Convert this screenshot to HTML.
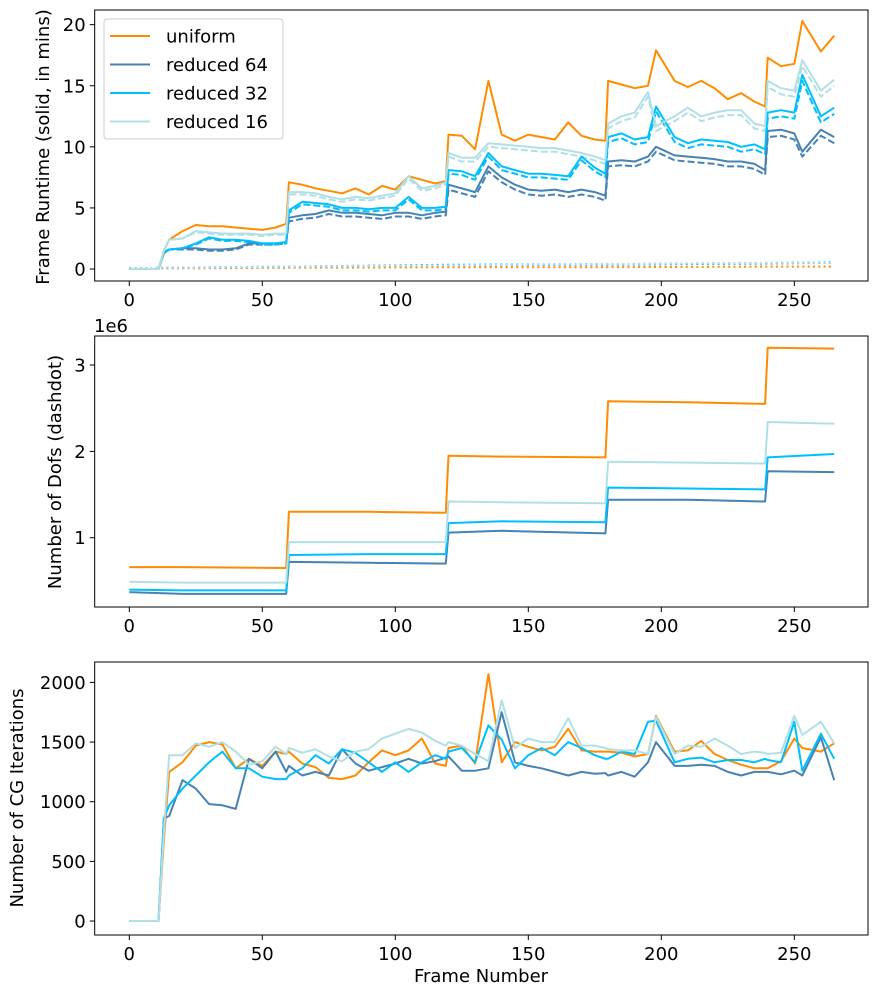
<!DOCTYPE html>
<html><head><meta charset="utf-8"><style>
body{margin:0;background:#fff;}
svg{display:block;font-family:"DejaVu Sans","Liberation Sans",sans-serif;}
</style></head><body>
<svg id="chart" width="878" height="997"></svg>
<script>
const frames=[0,5,10,11,13,15,20,25,30,35,40,45,50,55,59,60,65,70,75,80,85,90,95,100,105,110,115,119,120,125,130,135,140,145,150,155,160,165,170,175,179,180,185,190,195,198,205,210,215,220,225,230,235,239,240,245,250,253,260,265];
const seriesNames=["uniform","reduced 64","reduced 32","reduced 16"];
const runUniform=[0,0,0,0,1.5,2.4,3.1,3.6,3.5,3.5,3.4,3.3,3.2,3.4,3.7,7.1,6.9,6.6,6.4,6.2,6.6,6.1,6.8,6.5,7.6,7.3,7.0,7.2,11.0,10.9,9.8,15.4,11.0,10.5,11.0,10.8,10.6,12.0,10.9,10.6,10.5,15.4,15.1,14.8,15.0,17.9,15.4,14.9,15.4,14.8,13.9,14.4,13.7,13.3,17.3,16.6,16.8,20.3,17.8,19.1];
const runR64=[0,0,0,0,1.3,1.6,1.7,1.7,1.6,1.6,1.7,2.1,2.1,2.1,2.2,4.2,4.4,4.5,4.8,4.6,4.6,4.5,4.4,4.6,4.6,4.4,4.6,4.7,6.9,6.6,6.3,8.4,7.5,6.9,6.5,6.4,6.5,6.3,6.5,6.3,6.0,8.8,8.9,8.8,9.2,10.0,9.3,9.2,9.1,9.0,8.8,8.8,8.6,8.1,11.3,11.4,11.1,9.6,11.4,10.8];
const runR32=[0,0,0,0,1.4,1.6,1.7,2.1,2.6,2.4,2.4,2.3,2.1,2.1,2.2,4.8,5.5,5.4,5.3,5.0,5.0,4.9,5.0,5.0,5.9,5.0,5.0,5.1,8.1,8.0,7.6,9.5,8.4,8.1,7.8,7.8,7.7,7.6,9.2,8.3,7.8,10.8,11.1,10.6,10.8,13.3,10.8,10.3,10.6,10.5,10.4,10.0,10.2,9.8,12.8,13.0,12.8,15.9,12.5,13.2];
const runR16=[0,0,0,0,1.5,2.4,2.5,3.1,3.0,2.9,2.9,2.9,2.8,2.9,2.9,6.3,6.3,6.2,5.9,5.7,5.9,5.8,6.0,6.2,7.6,6.6,6.8,7.1,9.5,9.1,9.1,10.3,10.2,10.1,10.0,9.9,9.9,9.7,9.5,9.2,8.9,11.9,12.5,12.8,14.5,11.7,12.5,13.2,12.5,12.8,13.0,13.0,11.9,11.7,15.4,14.8,14.6,17.1,14.6,15.5];
const dashR64=[0,0,0,0,1.3,1.6,1.6,1.6,1.5,1.5,1.6,2.0,2.0,2.0,2.1,3.9,4.1,4.2,4.5,4.3,4.3,4.2,4.1,4.3,4.3,4.1,4.3,4.4,6.5,6.2,5.9,8.0,7.1,6.5,6.1,6.0,6.1,5.9,6.1,5.9,5.6,8.4,8.5,8.4,8.8,9.6,8.9,8.8,8.7,8.6,8.4,8.4,8.2,7.7,10.8,10.9,10.6,9.2,10.9,10.3];
const dashR32=[0,0,0,0,1.4,1.6,1.7,2.0,2.5,2.3,2.3,2.2,2.0,2.0,2.1,4.6,5.3,5.2,5.1,4.8,4.8,4.7,4.8,4.8,5.7,4.8,4.8,4.9,7.8,7.7,7.3,9.2,8.1,7.8,7.5,7.5,7.4,7.3,8.9,8.0,7.5,10.4,10.7,10.2,10.4,12.9,10.4,9.9,10.2,10.1,10.0,9.6,9.8,9.4,12.3,12.5,12.3,15.4,12.0,12.7];
const dashR16=[0,0,0,0,1.5,2.4,2.5,3.0,2.9,2.8,2.8,2.8,2.7,2.8,2.8,6.1,6.1,6.0,5.7,5.5,5.7,5.6,5.8,6.0,7.4,6.4,6.6,6.9,9.2,8.8,8.8,10.0,9.9,9.8,9.7,9.6,9.6,9.4,9.2,8.9,8.6,11.5,12.1,12.4,14.1,11.3,12.1,12.8,12.1,12.4,12.6,12.6,11.5,11.3,14.9,14.3,14.1,16.6,14.1,15.0];
const stageFrames=[0,12,60,120,180,240,265];
const dotUniform=[0.05,0.05,0.1,0.15,0.15,0.2,0.2];
const dotR64=[0.05,0.1,0.2,0.3,0.35,0.45,0.5];
const dotR32=[0.05,0.1,0.2,0.35,0.4,0.5,0.55];
const dotR16=[0.05,0.1,0.2,0.3,0.4,0.5,0.5];
const dofFrames=[0,20,59,60,90,119,120,140,179,180,210,239,240,265];
const dofUniform=[0.66,0.66,0.65,1.30,1.30,1.29,1.95,1.94,1.93,2.58,2.57,2.55,3.20,3.19];
const dofR64=[0.37,0.35,0.35,0.72,0.71,0.70,1.06,1.08,1.05,1.44,1.44,1.42,1.77,1.76];
const dofR32=[0.40,0.39,0.39,0.80,0.81,0.81,1.17,1.19,1.18,1.58,1.57,1.56,1.93,1.97];
const dofR16=[0.49,0.48,0.48,0.95,0.95,0.95,1.42,1.41,1.40,1.88,1.87,1.86,2.34,2.32];
const cgUniform=[0,0,0,0,680,1250,1330,1470,1500,1480,1280,1360,1300,1420,1400,1420,1320,1290,1200,1190,1220,1330,1430,1390,1430,1530,1320,1300,1450,1470,1320,2070,1330,1500,1460,1430,1460,1610,1430,1420,1420,1420,1410,1380,1400,1720,1420,1430,1510,1400,1350,1310,1280,1280,1280,1340,1530,1450,1420,1490];
const cgR64=[0,0,0,0,860,880,1180,1110,980,970,940,1360,1280,1420,1250,1300,1220,1250,1220,1440,1320,1260,1290,1320,1360,1320,1340,1370,1380,1260,1260,1280,1750,1330,1300,1280,1250,1220,1250,1235,1240,1220,1250,1210,1330,1500,1300,1300,1310,1300,1250,1220,1250,1250,1250,1230,1260,1220,1540,1180];
const cgR32=[0,0,0,0,860,970,1110,1220,1330,1420,1280,1280,1210,1190,1190,1220,1280,1390,1320,1440,1410,1330,1250,1330,1250,1330,1390,1360,1420,1450,1330,1640,1520,1280,1390,1450,1390,1500,1450,1390,1360,1360,1420,1400,1670,1680,1330,1360,1370,1330,1350,1350,1330,1360,1350,1330,1670,1260,1570,1360];
const cgR16=[0,0,0,0,750,1390,1390,1490,1460,1500,1420,1310,1340,1460,1400,1450,1410,1440,1380,1340,1420,1440,1530,1570,1610,1580,1510,1470,1500,1470,1400,1340,1850,1450,1530,1500,1500,1700,1470,1470,1450,1440,1430,1430,1400,1710,1400,1470,1460,1530,1470,1400,1420,1410,1400,1410,1720,1560,1670,1490];
const xTicks=[0,50,100,150,200,250];
const yTicks1=[0,5,10,15,20];
const yTicks2=[1,2,3];
const yTicks3=[0,500,1000,1500,2000];

const colors=["#ff8c00","#4682b4","#00bfff","#b0e0e6"];
const NS="http://www.w3.org/2000/svg";
const svg=document.getElementById("chart");
function mk(tag,attrs,parent){const e=document.createElementNS(NS,tag);for(const k in attrs)e.setAttribute(k,attrs[k]);(parent||svg).appendChild(e);return e;}
const L=94.7,R=868;
function xs(f){return L+(f+13)*(R-L)/(277.7+13);}
const panels=[
 {top:10,bot:281,ymin:-0.98,ymax:21.2,ticks:yTicks1,name:"runtime"},
 {top:336,bot:607,ymin:0.198,ymax:3.336,ticks:yTicks2,name:"dofs"},
 {top:662,bot:935,ymin:-117,ymax:2171,ticks:yTicks3,name:"cg"}];
panels.forEach(p=>{p.ys=v=>p.bot-(v-p.ymin)*(p.bot-p.top)/(p.ymax-p.ymin);});
function line(p,fr,vals,color,dash,name){
 const d=fr.map((f,i)=>(i?"L":"M")+xs(f).toFixed(1)+","+p.ys(vals[i]).toFixed(1)).join("");
 const el=mk("path",{d:d,fill:"none",stroke:color,"stroke-width":2,"stroke-linejoin":"round"});
 if(dash)el.setAttribute("stroke-dasharray",dash);
 
 
}
const p1=panels[0];
const dots=[dotUniform,dotR64,dotR32,dotR16];
dots.forEach((v,i)=>line(p1,stageFrames,v,colors[i],"2,3.3","dotted-"+i));
[null,dashR64,dashR32,dashR16].forEach((v,i)=>{if(v)line(p1,frames,v,colors[i],"7,3","dashed-runtime-"+i);});
[runUniform,runR64,runR32,runR16].forEach((v,i)=>line(p1,frames,v,colors[i],null,"runtime-line-"+i));
[dofUniform,dofR64,dofR32,dofR16].forEach((v,i)=>line(panels[1],dofFrames,v,colors[i],null,"dofs-line-"+i));
[cgUniform,cgR64,cgR32,cgR16].forEach((v,i)=>line(panels[2],frames,v,colors[i],null,"cg-line-"+i));
panels.forEach(p=>{
 const fr=mk("rect",{x:L,y:p.top,width:R-L,height:p.bot-p.top,fill:"none",stroke:"#000","stroke-width":1});
 
 
 xTicks.forEach(t=>{const x=xs(t);
  mk("line",{x1:x,x2:x,y1:p.bot,y2:p.bot+5,stroke:"#000"});
  const tx=mk("text",{x:x,y:p.bot+25,"text-anchor":"middle","font-size":18});tx.textContent=t;
  
  
 });
 p.ticks.forEach(t=>{const y=p.ys(t);
  mk("line",{x1:L-5,x2:L,y1:y,y2:y,stroke:"#000"});
  const tx=mk("text",{x:L-9,y:y+6.5,"text-anchor":"end","font-size":18});tx.textContent=t;
  
  
 });
});
function label(txt,x,y,rot,name){const t=mk("text",{x:x,y:y,"text-anchor":"middle","font-size":18,transform:rot?`rotate(-90 ${x} ${y})`:""});t.textContent=txt;
 
 }
label("Frame Runtime (solid, in mins)",49,147,true,"y-axis-title-runtime");
label("Number of Dofs (dashdot)",61,472,true,"y-axis-title-dofs");
label("Number of CG Iterations",23,798,true,"y-axis-title-cg");
label("Frame Number",481,982,false,"x-axis-title");
const ex=mk("text",{x:94,y:332,"font-size":18});ex.textContent="1e6";


const lg=mk("g",{});


mk("rect",{x:104,y:19,width:179,height:120,rx:3,fill:"#fff","fill-opacity":0.8,stroke:"#ccc"},lg);
seriesNames.forEach((n,i)=>{const y=36+i*28.5;
 mk("line",{x1:110,x2:150,y1:y,y2:y,stroke:colors[i],"stroke-width":2},lg);
 const t=mk("text",{x:166,y:y+6.5,"font-size":18},lg);t.textContent=n;
 
 
});
</script>
</body></html>
